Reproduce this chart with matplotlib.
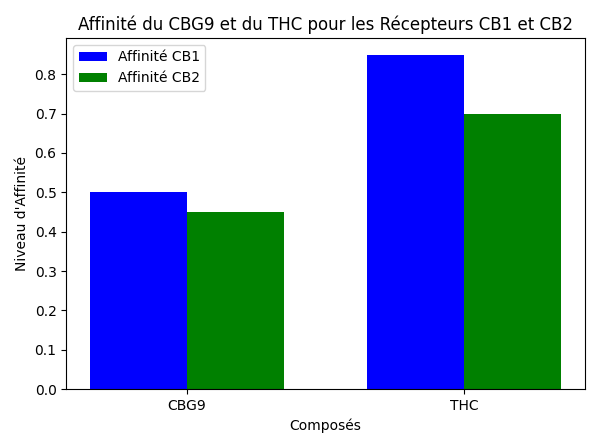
import matplotlib
matplotlib.use("Agg")
import matplotlib.pyplot as plt
import numpy as np

categories = ["CBG9", "THC"]
cb1 = [0.5, 0.85]
cb2 = [0.45, 0.7]

fig, ax = plt.subplots(figsize=(6, 4.48), dpi=100)
x = np.arange(len(categories))
w = 0.35
ax.bar(x - w/2, cb1, w, color="blue", label="Affinité CB1")
ax.bar(x + w/2, cb2, w, color="green", label="Affinité CB2")
ax.set_xticks(x)
ax.set_xticklabels(categories)
ax.set_xlabel("Composés")
ax.set_ylabel("Niveau d'Affinité")
ax.set_title("Affinité du CBG9 et du THC pour les Récepteurs CB1 et CB2")
ax.legend(loc="upper left")
fig.tight_layout()
fig.savefig("out.png")
